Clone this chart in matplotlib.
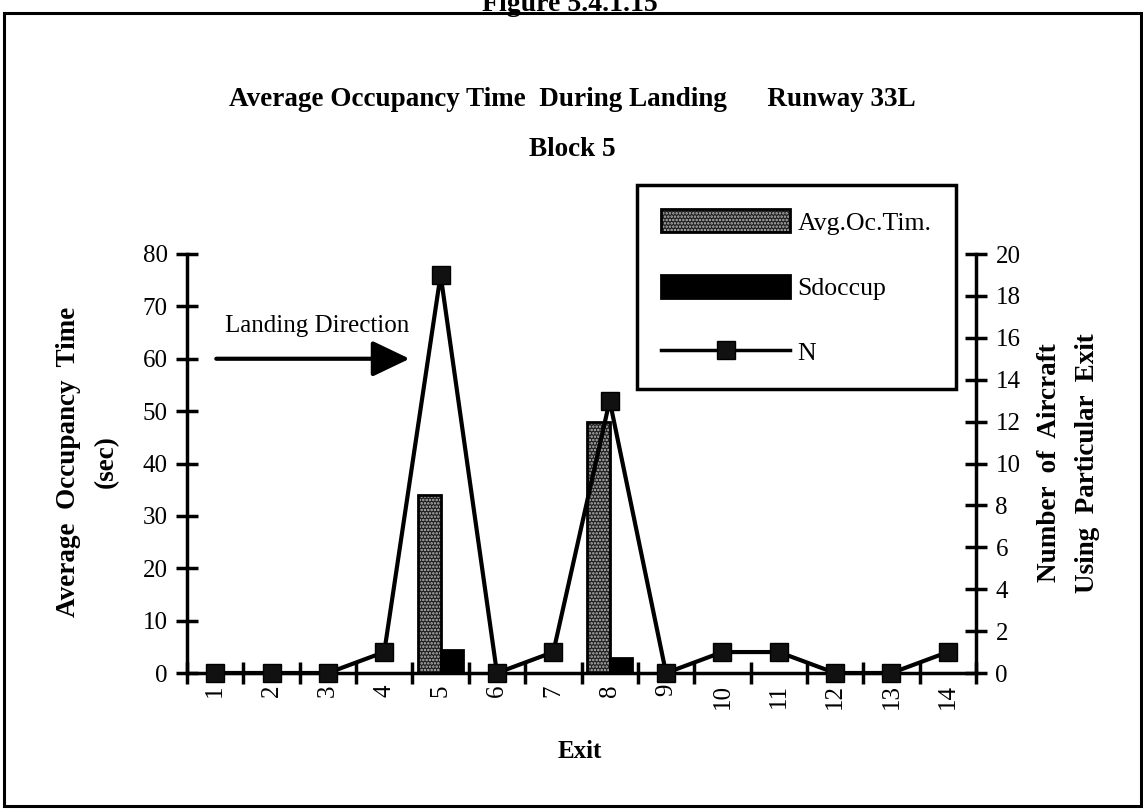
import matplotlib
matplotlib.use("Agg")
import matplotlib.pyplot as plt
from matplotlib.patches import Patch, Rectangle
from matplotlib.lines import Line2D
from matplotlib.legend_handler import HandlerTuple

exits = list(range(1, 15))
avg_occ = [0, 0, 0, 0, 34, 0, 0, 48, 0, 0, 0, 0, 0, 0]
sd_occ = [0, 0, 0, 0, 4.3, 0, 0, 2.8, 0, 0, 0, 0, 0, 0]
n_aircraft = [0, 0, 0, 1, 19, 0, 1, 13, 0, 1, 1, 0, 0, 1]
left_ticks = list(range(0, 81, 10))
right_ticks = list(range(0, 21, 2))

plt.rcParams['font.family'] = ['Liberation Serif', 'DejaVu Serif']
plt.rcParams['hatch.linewidth'] = 1.2

W, H = 1143, 809
fig = plt.figure(figsize=(W / 100, H / 100), dpi=100)
ax = fig.add_axes([187 / W, 1 - 673 / H, (976 - 187) / W, (673 - 254) / H])

bw = 0.4
xs = [e - 0.2 for e in exits]
xs2 = [e + 0.2 for e in exits]
ax.bar(xs, avg_occ, width=bw, facecolor='#1e1e1e', edgecolor='#bdbdbd',
       hatch='.....', linewidth=0, zorder=2)
ax.bar(xs, avg_occ, width=bw, fill=False, edgecolor='black', linewidth=2, zorder=3)
ax.bar(xs2, sd_occ, width=bw, facecolor='black', edgecolor='black', linewidth=2, zorder=3)

ax.set_xlim(0.5, 14.5)
ax.set_ylim(0, 80)
ax.set_yticks(left_ticks)
ax.set_xticks(exits)
ax.set_xticklabels([str(e) for e in exits], rotation=90, fontsize=18)
ax.set_xticks([e + 0.5 for e in range(0, 15)], minor=True)
ax.tick_params(axis='x', which='major', length=0, pad=8)
ax.tick_params(axis='x', which='minor', direction='inout', length=16, width=2.5)
ax.tick_params(axis='y', direction='inout', length=16, width=2.5, labelsize=18, pad=6)
for s in ['top', 'right']:
    ax.spines[s].set_visible(False)
for s in ['left', 'bottom']:
    ax.spines[s].set_linewidth(2.5)

ax2 = ax.twinx()
ax2.set_ylim(0, 20)
ax2.set_yticks(right_ticks)
ax2.plot(exits, n_aircraft, color='black', linewidth=3, marker='s', markersize=13,
         markerfacecolor='#111111', markeredgecolor='black', clip_on=False, zorder=5)
ax2.tick_params(axis='y', direction='inout', length=16, width=2.5, labelsize=18, pad=6)
for s in ['top', 'left', 'bottom']:
    ax2.spines[s].set_visible(False)
ax2.spines['right'].set_linewidth(2.5)

# Arrow + annotation
ax.annotate('', xy=(4.45, 60), xytext=(1.02, 60),
            arrowprops=dict(arrowstyle='-|>,head_length=1.15,head_width=0.55',
                            lw=3, color='black', mutation_scale=20, shrinkA=0, shrinkB=0))
ax.text(1.17, 66.2, 'Landing Direction', fontsize=18, va='center', ha='left')

# Axis labels
lab_fs = 19.5
fig.text(69 / W, 1 - 462 / H, 'Average  Occupancy  Time', rotation=90, fontsize=lab_fs,
         fontweight='bold', ha='center', va='center')
fig.text(106 / W, 1 - 462 / H, '(sec)', rotation=90, fontsize=lab_fs,
         fontweight='bold', ha='center', va='center')
fig.text(1050 / W, 1 - 463 / H, 'Number  of  Aircraft', rotation=90, fontsize=lab_fs,
         fontweight='bold', ha='center', va='center')
fig.text(1087 / W, 1 - 463 / H, 'Using  Particular  Exit', rotation=90, fontsize=lab_fs,
         fontweight='bold', ha='center', va='center')
fig.text(580 / W, 1 - 752 / H, 'Exit', fontsize=18, fontweight='bold',
         ha='center', va='center')

# Titles
fig.text(572 / W, 1 - 100 / H, 'Average Occupancy Time  During Landing      Runway 33L',
         fontsize=19.5, fontweight='bold', ha='center', va='center')
fig.text(572 / W, 1 - 149 / H, 'Block 5', fontsize=19.5, fontweight='bold',
         ha='center', va='center')
fig.text(570 / W, 1 - 11 / H, 'Figure 5.4.1.15', fontsize=20, fontweight='bold',
         ha='center', va='baseline')

# Legend
h_avg = (Patch(facecolor='#1e1e1e', edgecolor='#bdbdbd', hatch='.....', linewidth=0),
         Patch(fill=False, edgecolor='black', linewidth=2))
h_sd = Patch(facecolor='black', edgecolor='black', linewidth=2)
h_n = Line2D([], [], color='black', linewidth=2.5, marker='s', markersize=13,
             markerfacecolor='#111111', markeredgecolor='black')
leg = fig.legend([h_avg, h_sd, h_n], ['Avg.Oc.Tim.', 'Sdoccup', 'N'],
                 handler_map={tuple: HandlerTuple(ndivide=1, pad=0)},
                 loc='upper left', bbox_to_anchor=(637 / W, 1 - 185 / H),
                 borderaxespad=0, fontsize=18.5, handlelength=5.0, handleheight=1.0,
                 labelspacing=1.55, handletextpad=0.3, borderpad=0.95,
                 fancybox=False, framealpha=1, edgecolor='black')
leg.get_frame().set_linewidth(2.5)

# Outer frame
fig.patches.append(Rectangle((4 / W, 1 - 806 / H), (1141 - 4) / W, (806 - 13) / H,
                             transform=fig.transFigure, fill=False, edgecolor='black',
                             linewidth=2.2))

fig.savefig('out.png', dpi=100)
